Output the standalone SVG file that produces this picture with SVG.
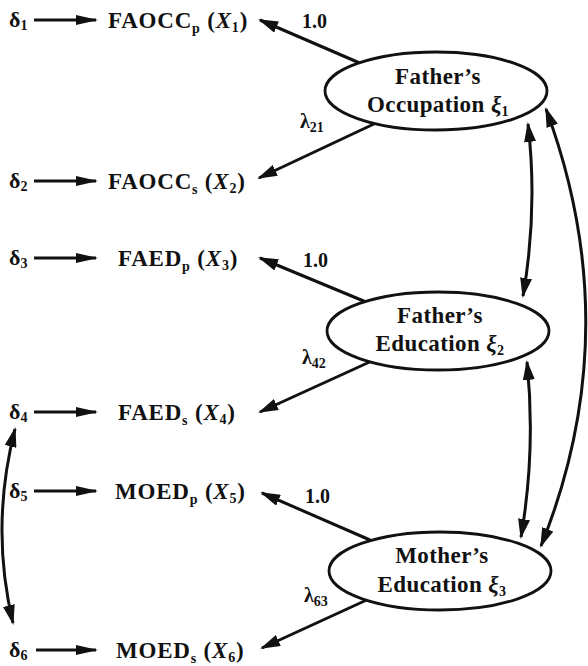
<svg xmlns="http://www.w3.org/2000/svg" width="588" height="666" viewBox="0 0 588 666">
  <style>
    text { font-family: "Liberation Serif", "Times New Roman", serif; font-weight: bold; fill: #111; }
    .obs { font-size: 23px; letter-spacing: 0.8px; }
    .err { font-size: 22px; }
    .lat { font-size: 23px; letter-spacing: 0.4px; text-anchor: middle; }
    .coef { font-size: 20px; }
    .sub { font-size: 14px; }
    .it { font-style: italic; }
    .edge { fill: none; stroke: #111; stroke-width: 3; }
    .node-shape { fill: #fff; stroke: #111; stroke-width: 2.8; }
  </style>
  <defs>
    <marker id="headSmall" viewBox="0 0 22 11" refX="20" refY="5.5" markerWidth="22" markerHeight="11" markerUnits="userSpaceOnUse" orient="auto">
      <path d="M0,0.5 L22,5.5 L0,10.5 z" fill="#111"/>
    </marker>
    <marker id="head" viewBox="0 0 20 12" refX="18" refY="6" markerWidth="20" markerHeight="12" markerUnits="userSpaceOnUse" orient="auto-start-reverse">
      <path d="M0,0 L20,6 L0,12 z" fill="#111"/>
    </marker>
  </defs>

  <!-- connectors -->
  <g id="connectors">
    <!-- error terms to indicators -->
    <line class="edge" x1="34" y1="20" x2="96" y2="20" marker-end="url(#headSmall)"/>
    <line class="edge" x1="34" y1="181" x2="96" y2="181" marker-end="url(#headSmall)"/>
    <line class="edge" x1="34" y1="258" x2="96" y2="258" marker-end="url(#headSmall)"/>
    <line class="edge" x1="34" y1="412" x2="96" y2="412" marker-end="url(#headSmall)"/>
    <line class="edge" x1="34" y1="491" x2="96" y2="491" marker-end="url(#headSmall)"/>
    <line class="edge" x1="36" y1="650" x2="96" y2="650" marker-end="url(#headSmall)"/>

    <!-- loadings -->
    <line class="edge" x1="362" y1="64" x2="260" y2="20" marker-end="url(#head)"/>
    <line class="edge" x1="376" y1="123" x2="259" y2="178" marker-end="url(#head)"/>
    <line class="edge" x1="366" y1="302" x2="260" y2="258" marker-end="url(#head)"/>
    <line class="edge" x1="374" y1="360" x2="260" y2="412" marker-end="url(#head)"/>
    <line class="edge" x1="370" y1="540" x2="262" y2="493" marker-end="url(#head)"/>
    <line class="edge" x1="371" y1="598" x2="262" y2="648" marker-end="url(#head)"/>

    <!-- factor covariances -->
    <path class="edge" d="M528,124 Q538,210 523,296" marker-start="url(#head)" marker-end="url(#head)"/>
    <path class="edge" d="M527,362 Q536,450 521,537" marker-start="url(#head)" marker-end="url(#head)"/>
    <path class="edge" d="M546,109 Q628,330 541,546" marker-start="url(#head)" marker-end="url(#head)"/>

    <!-- correlated errors -->
    <path class="edge" d="M15,429 Q-10,527 13,623" marker-start="url(#head)" marker-end="url(#head)"/>
  </g>

  <!-- error terms -->
  <g id="d1"><text class="err" x="9" y="27">δ<tspan class="sub" dy="3">1</tspan></text></g>
  <g id="d2"><text class="err" x="9" y="188">δ<tspan class="sub" dy="3">2</tspan></text></g>
  <g id="d3"><text class="err" x="9" y="265">δ<tspan class="sub" dy="3">3</tspan></text></g>
  <g id="d4"><text class="err" x="9" y="419">δ<tspan class="sub" dy="3">4</tspan></text></g>
  <g id="d5"><text class="err" x="9" y="498">δ<tspan class="sub" dy="3">5</tspan></text></g>
  <g id="d6"><text class="err" x="9" y="657">δ<tspan class="sub" dy="3">6</tspan></text></g>

  <!-- indicators -->
  <g id="x1"><text class="obs" x="108" y="28">FAOCC<tspan class="sub" dy="5">p</tspan><tspan dy="-5"> (</tspan><tspan class="it">X</tspan><tspan class="sub" dy="4">1</tspan><tspan dy="-4">)</tspan></text></g>
  <g id="x2"><text class="obs" x="108" y="189">FAOCC<tspan class="sub" dy="5">s</tspan><tspan dy="-5"> (</tspan><tspan class="it">X</tspan><tspan class="sub" dy="4">2</tspan><tspan dy="-4">)</tspan></text></g>
  <g id="x3"><text class="obs" x="118" y="266">FAED<tspan class="sub" dy="5">p</tspan><tspan dy="-5"> (</tspan><tspan class="it">X</tspan><tspan class="sub" dy="4">3</tspan><tspan dy="-4">)</tspan></text></g>
  <g id="x4"><text class="obs" x="118" y="420">FAED<tspan class="sub" dy="5">s</tspan><tspan dy="-5"> (</tspan><tspan class="it">X</tspan><tspan class="sub" dy="4">4</tspan><tspan dy="-4">)</tspan></text></g>
  <g id="x5"><text class="obs" x="115" y="499">MOED<tspan class="sub" dy="5">p</tspan><tspan dy="-5"> (</tspan><tspan class="it">X</tspan><tspan class="sub" dy="4">5</tspan><tspan dy="-4">)</tspan></text></g>
  <g id="x6"><text class="obs" x="116" y="658">MOED<tspan class="sub" dy="5">s</tspan><tspan dy="-5"> (</tspan><tspan class="it">X</tspan><tspan class="sub" dy="4">6</tspan><tspan dy="-4">)</tspan></text></g>

  <!-- latent factors -->
  <g id="xi1">
    <ellipse class="node-shape" cx="436" cy="91" rx="111" ry="39"/>
    <text class="lat" x="438" y="84">Father’s</text>
    <text class="lat" x="438" y="112">Occupation <tspan class="it">ξ</tspan><tspan class="sub" dy="4">1</tspan></text>
  </g>
  <g id="xi2">
    <ellipse class="node-shape" cx="438" cy="331" rx="111" ry="39"/>
    <text class="lat" x="440" y="323">Father’s</text>
    <text class="lat" x="440" y="351">Education <tspan class="it">ξ</tspan><tspan class="sub" dy="4">2</tspan></text>
  </g>
  <g id="xi3">
    <ellipse class="node-shape" cx="440" cy="571" rx="111" ry="39"/>
    <text class="lat" x="442" y="563">Mother’s</text>
    <text class="lat" x="442" y="592">Education <tspan class="it">ξ</tspan><tspan class="sub" dy="4">3</tspan></text>
  </g>

  <!-- loading labels -->
  <g id="labels">
    <text class="coef" x="302" y="28">1.0</text>
    <text class="coef" x="300" y="128">λ<tspan class="sub" dy="4">21</tspan></text>
    <text class="coef" x="303" y="267">1.0</text>
    <text class="coef" x="302" y="364">λ<tspan class="sub" dy="4">42</tspan></text>
    <text class="coef" x="305" y="503">1.0</text>
    <text class="coef" x="304" y="602">λ<tspan class="sub" dy="4">63</tspan></text>
  </g>
</svg>
